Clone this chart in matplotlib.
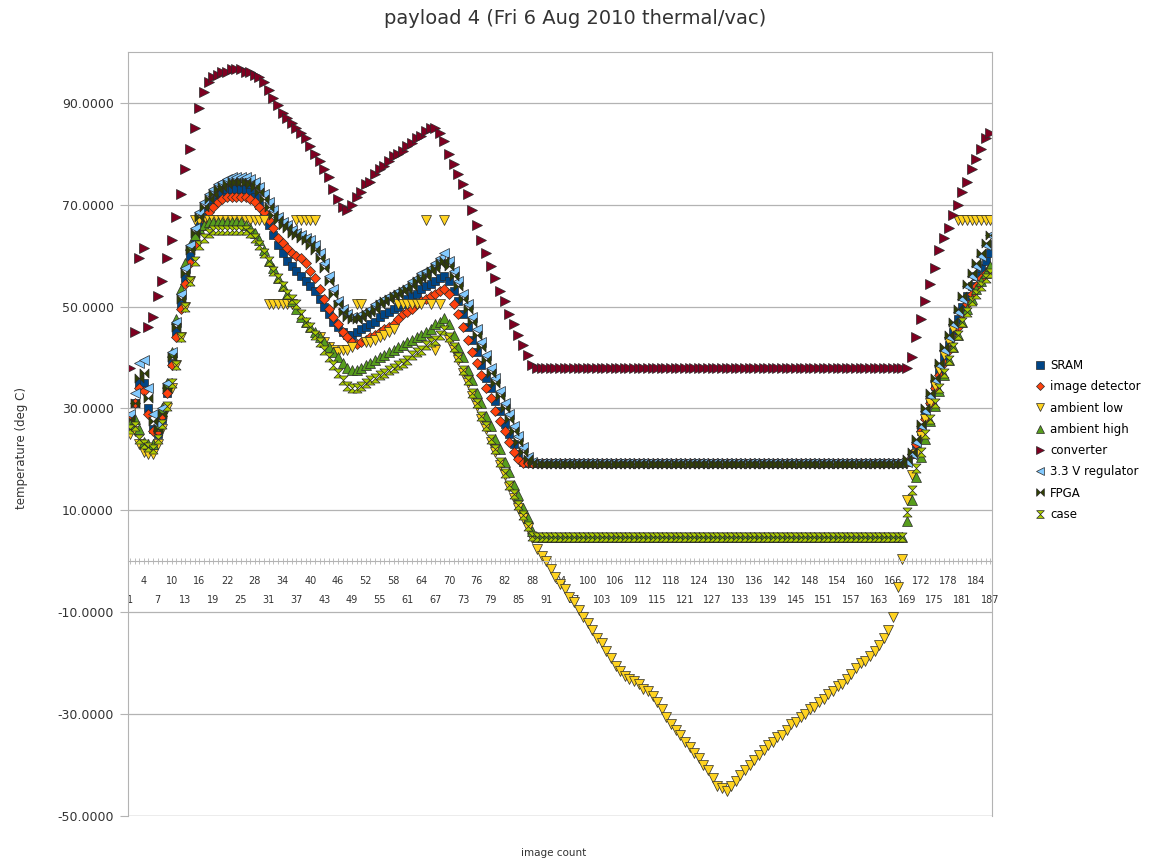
import matplotlib
matplotlib.use('Agg')
from matplotlib import pyplot as plt
from matplotlib.path import Path
import numpy as np

# image count categories 1..187
image_count = np.arange(1, 188)

sram = [
    28, 31, 35, 35, 30, 26, 25, 28,
    33, 39, 45, 50.5, 55.5, 60, 63.5, 66.5,
    68.5, 70, 71, 72, 72.5, 73, 73, 73, 73, 73, 72.5, 71.5, 70, 68,
    66, 64, 62, 60.5, 59, 58, 57, 56, 55, 54, 53, 51.5, 50, 48.5, 47, 46, 45, 44.5, 44.5, 45,
    45.5, 46, 46.5, 47, 48, 48.5, 49, 49.5, 50, 50.5, 51.5, 52, 52.5, 53.5, 54, 54.5, 55, 55.5, 56,
    55, 53, 51, 48.5, 46, 43.5, 41, 38.5, 36, 34, 31.5, 29.5, 27, 25, 23, 21, 19.5, 19.3, 19.3, 19.3, 19.3,
    19.3, 19.3, 19.3, 19.3, 19.3, 19.3, 19.3, 19.3, 19.3, 19.3, 19.3, 19.3, 19.3,
    19.3, 19.3, 19.3, 19.3, 19.3, 19.3, 19.3, 19.3, 19.3, 19.3, 19.3, 19.3, 19.3,
    19.3, 19.3, 19.3, 19.3, 19.3, 19.3, 19.3, 19.3, 19.3, 19.3, 19.3, 19.3, 19.3,
    19.3, 19.3, 19.3, 19.3, 19.3, 19.3, 19.3, 19.3, 19.3, 19.3, 19.3, 19.3, 19.3,
    19.3, 19.3, 19.3, 19.3, 19.3, 19.3, 19.3, 19.3, 19.3, 19.3, 19.3, 19.3, 19.3,
    19.3, 19.3, 19.3, 19.3, 19.3, 19.3, 19.3, 19.3, 19.3, 19.3, 19.3, 19.3, 19.3,
    19.5, 21, 23, 25.5, 28.5, 31.5, 34.5, 37.5, 40, 42.5, 45, 47.5, 50, 52, 54, 56, 57.5, 59, 60.5,
]

image_detector = [
    28, 31, 34, 33.5, 29, 25.5, 25.5, 28.5,
    33, 38.5, 44, 49.5, 54.5, 58.5, 62, 65,
    67, 68.5, 69.5, 70.5, 71, 71.5, 71.5, 71.5, 71.5, 71.5, 71, 70.5, 69.5, 68.5,
    67, 65.5, 63.5, 62.5, 61.5, 60.5, 60, 59.5, 58.5, 57, 55.5, 53.5, 51.5, 49.5, 48, 46.5, 45, 44, 43, 42.7,
    43, 43.5, 44, 44.5, 45, 45.5, 46, 46.5, 47.5, 48.5, 49, 49.5, 50.5, 51, 51.5, 52, 52.5, 53, 53.5,
    52.5, 50.5, 48.5, 46, 43.5, 41, 39, 36.5, 34, 32, 29.5, 27.5, 25.5, 23.5, 21.5, 20, 19.3, 19.3, 19.3, 19.3, 19.3,
    19.3, 19.3, 19.3, 19.3, 19.3, 19.3, 19.3, 19.3, 19.3, 19.3, 19.3, 19.3, 19.3,
    19.3, 19.3, 19.3, 19.3, 19.3, 19.3, 19.3, 19.3, 19.3, 19.3, 19.3, 19.3, 19.3,
    19.3, 19.3, 19.3, 19.3, 19.3, 19.3, 19.3, 19.3, 19.3, 19.3, 19.3, 19.3, 19.3,
    19.3, 19.3, 19.3, 19.3, 19.3, 19.3, 19.3, 19.3, 19.3, 19.3, 19.3, 19.3, 19.3,
    19.3, 19.3, 19.3, 19.3, 19.3, 19.3, 19.3, 19.3, 19.3, 19.3, 19.3, 19.3, 19.3,
    19.3, 19.3, 19.3, 19.3, 19.3, 19.3, 19.3, 19.3, 19.3, 19.3, 19.3, 19.3, 19.3,
    19.5, 21, 23, 25.5, 28, 31, 34, 36.5, 39, 41.5, 44, 46, 48.5, 50.5, 52.5, 54, 55.5, 56.5, 57.5,
]

ambient_low = [
    25, 25.5, 23, 21.5, 21, 21, 23, 26, 30, 34, 38.5, 44, 50,
    55,
    67, 67, 67, 67, 67, 67, 67, 67, 67, 67, 67, 67, 67, 67, 67, 67,
    50.5, 50.5, 50.5, 50.5, 50.5, 50.5,
    67, 67, 67, 67, 67,
    44, 43, 42, 41.5, 41, 41.5, 41.5, 42,
    50.5, 50.5, 43,
    43, 43.5, 44, 44.5, 45, 45.5,
    50.5, 50.5, 50.5, 50.5, 50.5, 50.5,
    67, 50.5, 41.5, 50.5, 67,
    43.5, 41.5, 39.5, 37, 35, 32.5, 30.5, 28, 26, 23.5, 21.5, 19, 17, 14.5, 12.5, 10.5, 8.5, 6.5, 4.5, 2.5, 1,
    0, -1.5, -3, -4.5, -5.5, -7, -8, -9.5, -11, -12, -13.5, -15, -16, -17.5, -19, -20.5, -21.5, -22.5, -23, -23.5,
    -24, -25, -25.5, -26.5, -27.5, -29, -30.5, -32, -33, -34, -35.5, -36.5, -37.5, -38.5, -40, -41, -42.5, -44, -44.5, -45,
    -44, -43, -42, -41, -40, -39, -38, -37, -36, -35.5, -34.5, -34, -33, -32, -31.5, -30.5, -30, -29, -28.5,
    -27.5, -27, -26, -25.5, -24.5, -24, -23, -22, -21, -20, -19.5, -18.5, -17.5, -16.5, -15, -13.5, -11, -5, 0.5,
    12, 17, 21, 24.5, 28, 31, 34.5, 37.5, 40.5, 43, 45.5,
    67, 67, 67, 67, 67, 67, 67, 67,
]

ambient_high = [
    27, 28, 26, 23.5, 23, 23, 26.5, 30,
    35, 41, 47.5, 53.5, 58.5, 62, 64, 65.5,
    66, 66.5, 66.5, 66.5, 66.5, 66.5, 66.5, 66.5, 66.5, 66, 65.5, 64.5, 63, 61,
    59, 57.5, 55.5, 54, 52.5, 51, 49.5, 48, 47, 46, 45, 44, 43, 42, 41, 40, 39, 38, 37.5, 37.5,
    38, 38.5, 39, 39.5, 40, 40.5, 41, 41.5, 42, 42.5, 43, 43.5, 44, 44.5, 45, 45.5, 46.5, 47, 47.8,
    46.5, 44.5, 42, 40, 37.5, 35.5, 33, 31, 28.5, 26.5, 24, 22, 19.5, 17.5, 15, 13, 10.5, 8.5, 6, 4.8, 4.7,
    4.7, 4.7, 4.7, 4.7, 4.7, 4.7, 4.7, 4.7, 4.7, 4.7, 4.7, 4.7, 4.7,
    4.7, 4.7, 4.7, 4.7, 4.7, 4.7, 4.7, 4.7, 4.7, 4.7, 4.7, 4.7, 4.7,
    4.7, 4.7, 4.7, 4.7, 4.7, 4.7, 4.7, 4.7, 4.7, 4.7, 4.7, 4.7, 4.7,
    4.7, 4.7, 4.7, 4.7, 4.7, 4.7, 4.7, 4.7, 4.7, 4.7, 4.7, 4.7, 4.7,
    4.7, 4.7, 4.7, 4.7, 4.7, 4.7, 4.7, 4.7, 4.7, 4.7, 4.7, 4.7, 4.7,
    4.7, 4.7, 4.7, 4.7, 4.7, 4.7, 4.7, 4.7, 4.7, 4.7, 4.7, 4.7, 4.7,
    8, 12, 16.5, 20.5, 24, 27.5, 30.5, 33.5, 36.5, 39.5, 42, 44.5, 47, 49.5, 51.5, 53.5, 55, 56.5, 58,
]

converter = [
    38, 45, 59.5, 61.5, 46, 48, 52, 55, 59.5, 63, 67.5, 72, 77,
    81, 85, 89, 92, 94, 95, 95.5, 96, 96, 96.5, 96.5, 96.5, 96, 96,
    95.5, 95, 94, 92.5, 91, 89.5, 88, 87, 86, 85, 84, 83, 81.5, 80, 78.5, 77, 75.5, 73, 71, 69.5, 69,
    70, 71.5, 72.5, 74, 74.5, 76, 77, 77.5, 78.5, 79.5, 80, 80.5, 81.5, 82, 83, 83.5, 84.5, 85, 85, 84, 82.5,
    80, 78, 76, 74, 72, 69, 66, 63, 60.5, 58, 55.5, 53, 51, 48.5, 46.5, 44.5, 42.5, 40.5, 38.5,
    38, 38, 38, 38, 38, 38, 38, 38, 38,
    38, 38, 38, 38, 38, 38, 38, 38, 38,
    38, 38, 38, 38, 38, 38, 38, 38, 38,
    38, 38, 38, 38, 38, 38, 38, 38, 38,
    38, 38, 38, 38, 38, 38, 38, 38, 38,
    38, 38, 38, 38, 38, 38, 38, 38, 38,
    38, 38, 38, 38, 38, 38, 38, 38, 38,
    38, 38, 38, 38, 38, 38, 38, 38, 38,
    38, 38, 38, 38, 38, 38, 38, 38, 38,
    40, 44, 47.5, 51, 54.5, 57.5, 61, 63.5, 65.5, 68, 70, 72.5, 74.5, 77, 79, 81, 83, 84,
]

regulator_33v = [
    29, 33, 39, 39.5, 34, 29, 27, 30,
    35, 41, 47, 52.5, 57.5, 62, 65.5, 68.5,
    70.5, 72, 73, 74, 74.5, 75, 75.5, 75.5, 75.5, 75.5, 75, 74.5, 73.5, 72,
    70.5, 69, 67.5, 66.5, 66, 65, 64.5, 64, 63.5, 63, 62, 60.5, 58.5, 56, 53.5, 51, 49.5, 48.5, 48, 48,
    48.5, 49, 49.5, 50.5, 51, 51.5, 52, 52.5, 53, 53.5, 54, 55, 55.5, 56.5, 57, 57.5, 58.5, 59.5, 60.5,
    59, 57, 55, 52.5, 50.5, 48, 45.5, 43, 40.5, 38, 36, 33.5, 31, 29, 26.5, 24.5, 22.5, 20.5, 19.5, 19.3, 19.3,
    19.3, 19.3, 19.3, 19.3, 19.3, 19.3, 19.3, 19.3, 19.3, 19.3, 19.3, 19.3, 19.3,
    19.3, 19.3, 19.3, 19.3, 19.3, 19.3, 19.3, 19.3, 19.3, 19.3, 19.3, 19.3, 19.3,
    19.3, 19.3, 19.3, 19.3, 19.3, 19.3, 19.3, 19.3, 19.3, 19.3, 19.3, 19.3, 19.3,
    19.3, 19.3, 19.3, 19.3, 19.3, 19.3, 19.3, 19.3, 19.3, 19.3, 19.3, 19.3, 19.3,
    19.3, 19.3, 19.3, 19.3, 19.3, 19.3, 19.3, 19.3, 19.3, 19.3, 19.3, 19.3, 19.3,
    19.3, 19.3, 19.3, 19.3, 19.3, 19.3, 19.3, 19.3, 19.3, 19.3, 19.3, 19.3, 19.3,
    19.5, 21, 23.5, 26.5, 29.5, 32.5, 35.5, 38.5, 41.5, 44, 46.5, 49, 51.5, 54, 56, 58, 60, 62, 64,
]

fpga = [
    28, 31, 36, 37, 32, 27.5, 26, 29,
    34, 40, 46, 51.5, 56.5, 61, 64.5, 67.5,
    69.5, 71, 72, 73, 73.5, 74, 74.5, 74.5, 74.5, 74.5, 74, 73.5, 72.5, 71,
    69.5, 68, 67, 66, 65.5, 64.5, 64, 63.5, 63, 62, 61, 59.5, 57.5, 55, 52.5, 50.5, 49, 48, 47.5, 47.5,
    48, 48.5, 49, 49.5, 50.5, 51, 51.5, 52, 52.5, 53, 53.5, 54, 55, 55.5, 56, 57, 57.5, 58.5, 59,
    58, 56, 54, 51.5, 49.5, 47, 44.5, 42, 39.5, 37, 35, 32.5, 30, 28, 25.5, 23.5, 21.5, 20, 19.3, 19.2, 19.2,
    19.2, 19.2, 19.2, 19.2, 19.2, 19.2, 19.2, 19.2, 19.2, 19.2, 19.2, 19.2, 19.2,
    19.2, 19.2, 19.2, 19.2, 19.2, 19.2, 19.2, 19.2, 19.2, 19.2, 19.2, 19.2, 19.2,
    19.2, 19.2, 19.2, 19.2, 19.2, 19.2, 19.2, 19.2, 19.2, 19.2, 19.2, 19.2, 19.2,
    19.2, 19.2, 19.2, 19.2, 19.2, 19.2, 19.2, 19.2, 19.2, 19.2, 19.2, 19.2, 19.2,
    19.2, 19.2, 19.2, 19.2, 19.2, 19.2, 19.2, 19.2, 19.2, 19.2, 19.2, 19.2, 19.2,
    19.2, 19.2, 19.2, 19.2, 19.2, 19.2, 19.2, 19.2, 19.2, 19.2, 19.2, 19.2, 19.2,
    20, 21.5, 24, 27, 30, 33, 36, 39, 42, 44.5, 47, 49.5, 52, 54.5, 56.5, 58.5, 60.5, 62.5, 64,
]

case = [
    26, 26.5, 24, 23, 22.5, 22, 24, 27,
    30.5, 35, 38.5, 44, 50, 55, 59, 62,
    63.5, 64.5, 65, 65, 65, 65, 65, 65, 65, 65, 64.5, 63.5, 62, 60.5,
    59, 57, 55.5, 54, 52.5, 51.5, 50.5, 48.5, 47, 46, 44.5, 43, 41.5, 40, 38.5, 37, 35.5, 34.5, 34, 34,
    34.5, 35, 35.5, 36, 36.5, 37, 37.5, 38, 38.5, 39, 39.5, 40.5, 41, 41.5, 42.5, 43, 43.5, 44.5, 45.3,
    44, 42, 40, 37.5, 35.5, 33, 31, 28.5, 26.5, 24, 22, 19.5, 17.3, 15, 13.3, 11, 9, 7, 5, 4.7, 4.7,
    4.7, 4.7, 4.7, 4.7, 4.7, 4.7, 4.7, 4.7, 4.7, 4.7, 4.7, 4.7, 4.7,
    4.7, 4.7, 4.7, 4.7, 4.7, 4.7, 4.7, 4.7, 4.7, 4.7, 4.7, 4.7, 4.7,
    4.7, 4.7, 4.7, 4.7, 4.7, 4.7, 4.7, 4.7, 4.7, 4.7, 4.7, 4.7, 4.7,
    4.7, 4.7, 4.7, 4.7, 4.7, 4.7, 4.7, 4.7, 4.7, 4.7, 4.7, 4.7, 4.7,
    4.7, 4.7, 4.7, 4.7, 4.7, 4.7, 4.7, 4.7, 4.7, 4.7, 4.7, 4.7, 4.7,
    4.7, 4.7, 4.7, 4.7, 4.7, 4.7, 4.7, 4.7, 4.7, 4.7, 4.7, 4.7, 4.7,
    9.6, 14, 18.4, 21.5, 25, 28, 31, 34, 37, 39.5, 42, 44.5, 47, 49, 51, 52.5, 54, 55.5, 56.5,
]

series_names = ['SRAM', 'image detector', 'ambient low', 'ambient high',
                'converter', '3.3 V regulator', 'FPGA', 'case']
series_values = [sram, image_detector, ambient_low, ambient_high,
                 converter, regulator_33v, fpga, case]
for name, vals in zip(series_names, series_values):
    assert len(vals) == 187, (name, len(vals))

colors = ['#004586', '#ff420e', '#ffd320', '#579d1c',
          '#7e0021', '#83caff', '#314004', '#aecf00']

# two-triangle symbols like the office ones
bowtie = Path([(-1, -1), (0, 0), (-1, 1), (-1, -1), (1, -1), (0, 0), (1, 1), (1, -1)],
              [1, 2, 2, 79, 1, 2, 2, 79])
hourglass = Path([(-1, 1), (0, 0), (1, 1), (-1, 1), (-1, -1), (0, 0), (1, -1), (-1, -1)],
                 [1, 2, 2, 79, 1, 2, 2, 79])
markers = ['s', 'D', 'v', '^', '>', '<', bowtie, hourglass]
sizes = [6, 5.3, 7.2, 7.2, 7.2, 7.2, 6.5, 6.5]

fig = plt.figure(figsize=(11.5, 8.61), dpi=100)
ax = fig.add_axes([0.111, 0.052, 0.752, 0.888])

for name, vals, c, m, s in zip(series_names, series_values, colors, markers, sizes):
    ax.plot(image_count, vals, linestyle='none', marker=m, markersize=s,
            markerfacecolor=c, markeredgecolor='#2a2a2a', markeredgewidth=0.5,
            label=name)

ax.set_xlim(0.5, 187.5)
ax.set_ylim(-50, 100)

yt = [90, 70, 50, 30, 10, -10, -30, -50]
ax.set_yticks(yt)
ax.set_yticklabels(['%.4f' % v for v in yt])
ax.yaxis.grid(True, color='#b3b3b3', linewidth=0.9)
ax.set_axisbelow(True)
ax.tick_params(axis='y', length=6, color='#b3b3b3', pad=4, labelsize=9, labelcolor='#333333')

# category labels: every 3rd, staggered on two rows
upper_labels = []
lower_pos = []
lower_labels = []
for i in image_count:
    if (i - 1) % 3 == 0 and ((i - 1) // 3) % 2 == 1:
        upper_labels.append(str(i))
    else:
        upper_labels.append('')
    if (i - 1) % 6 == 0:
        lower_pos.append(i)
        lower_labels.append(str(i))
ax.xaxis.remove_overlapping_locs = False
ax.set_xticks(image_count)
ax.set_xticklabels(upper_labels)
ax.set_xticks(lower_pos, minor=True)
ax.set_xticklabels(lower_labels, minor=True)
ax.tick_params(axis='x', which='major', length=4, direction='inout', color='#b3b3b3',
               pad=8.5, width=0.6, labelsize=7, labelcolor='#333333')
ax.tick_params(axis='x', which='minor', length=0, pad=24, labelsize=7, labelcolor='#333333')

for sp in ['left', 'right', 'top']:
    ax.spines[sp].set_color('#b3b3b3')
ax.spines['bottom'].set_position(('data', 0))
ax.spines['bottom'].set_color('#b3b3b3')
ax.axhline(-50, color='#b3b3b3', linewidth=0.9)

ax.legend(loc='center left', bbox_to_anchor=(0.9, 0.489), bbox_transform=fig.transFigure,
          frameon=False, fontsize=8.5, numpoints=1, handlelength=0.8, handletextpad=0.5,
          labelspacing=0.7, borderaxespad=0, borderpad=0, markerscale=0.85)

fig.text(0.5, 0.978, 'payload 4 (Fri 6 Aug 2010 thermal/vac)', ha='center', va='center',
         fontsize=14, color='#333333')
fig.text(0.019, 0.48, 'temperature (deg C)', rotation=90, ha='center', va='center',
         fontsize=8.5, color='#333333')
fig.text(0.481, 0.009, 'image count', ha='center', va='center', fontsize=7.5, color='#333333')

fig.savefig('out.png', dpi=100)
